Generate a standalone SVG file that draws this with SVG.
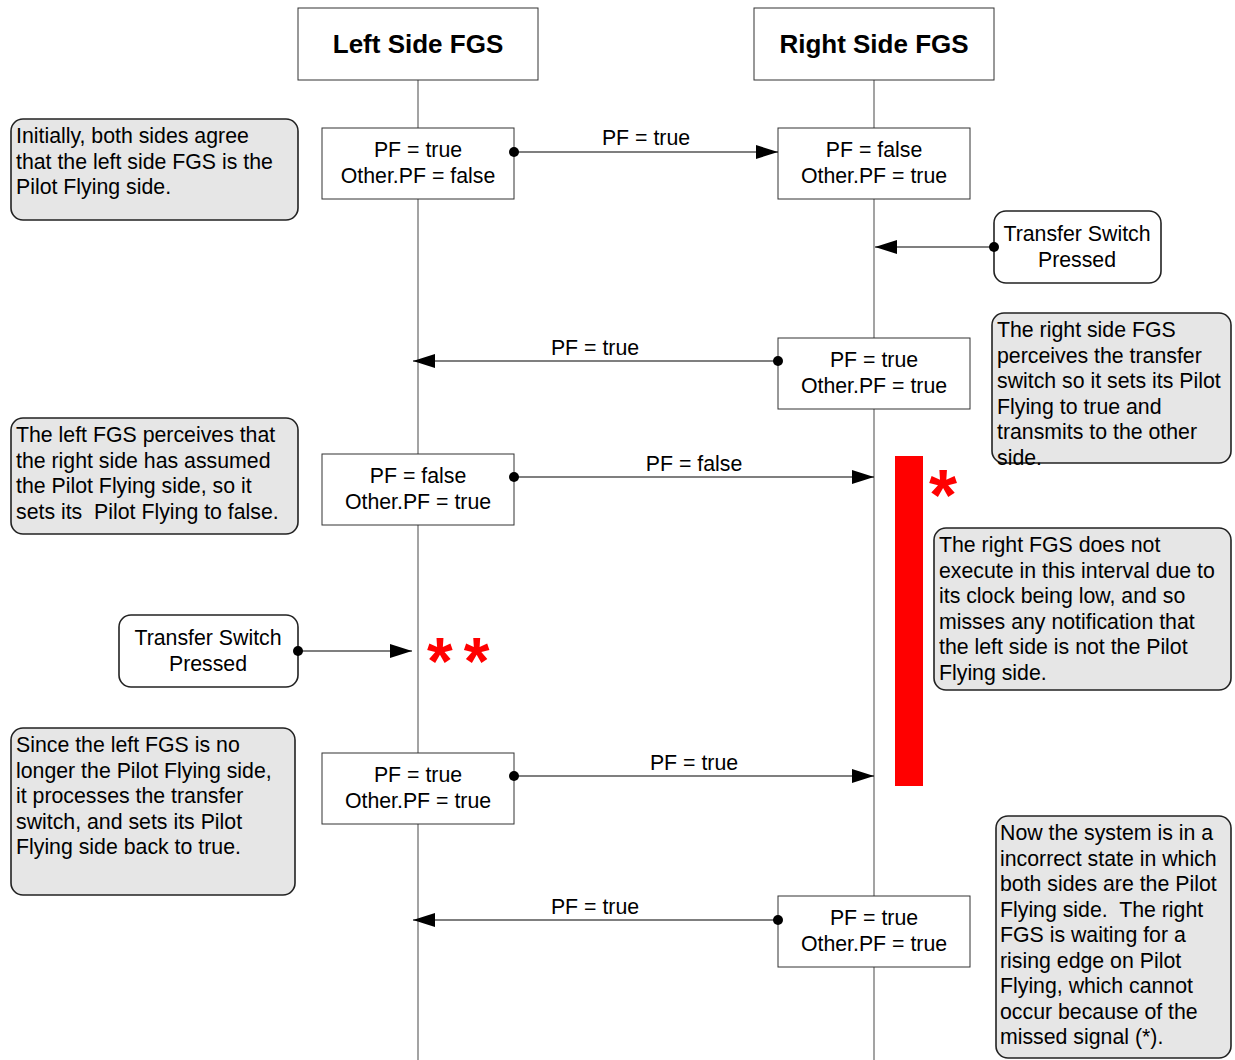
<svg xmlns="http://www.w3.org/2000/svg" width="1235" height="1060" viewBox="0 0 1235 1060">
<defs>
<marker id="arrow" markerUnits="userSpaceOnUse" markerWidth="24" markerHeight="16" refX="22" refY="8" orient="auto">
<path d="M0,1 L22,8 L0,15 Z" fill="#000"/>
</marker>
<marker id="dot" markerUnits="userSpaceOnUse" markerWidth="12" markerHeight="12" refX="6" refY="6" orient="auto">
<circle cx="6" cy="6" r="5" fill="#000"/>
</marker>
<style>
text{font-family:"Liberation Sans",Arial,sans-serif;fill:#000;}
.title{font-size:26px;font-weight:bold;text-anchor:middle;}
.head{fill:#fff;stroke:#333;stroke-width:1;}
.life{stroke:#666;stroke-width:1.2;fill:none;}
.state{fill:#fff;stroke:#333;stroke-width:1;}
.st{font-size:21.3px;text-anchor:middle;}
.note{fill:#e6e6e6;stroke:#222;stroke-width:1.6;}
.nt{font-size:21.3px;}
.sw{fill:#fff;stroke:#222;stroke-width:1.6;}
.msg{stroke:#000;stroke-width:1.2;fill:none;marker-start:url(#dot);marker-end:url(#arrow);}
.lbl{font-size:21.3px;text-anchor:middle;}
.star{font-weight:bold;fill:#ff0000;}
</style>
</defs>
<rect width="1235" height="1060" fill="#fff"/>

<g id="lifelines">
<line class="life" x1="418" y1="80" x2="418" y2="1060"/>
<line class="life" x1="874" y1="80" x2="874" y2="1060"/>
</g>

<g id="left-fgs">
<rect class="head" x="298" y="8" width="240" height="72"/>
<text class="title" x="418" y="53">Left Side FGS</text>
</g>
<g id="right-fgs">
<rect class="head" x="754" y="8" width="240" height="72"/>
<text class="title" x="874" y="53">Right Side FGS</text>
</g>

<g id="state-l1">
<rect class="state" x="322" y="128" width="192" height="71"/>
<text class="st" x="418" y="157">PF = true</text>
<text class="st" x="418" y="183">Other.PF = false</text>
</g>
<g id="state-r1">
<rect class="state" x="778" y="128" width="192" height="71"/>
<text class="st" x="874" y="157">PF = false</text>
<text class="st" x="874" y="183">Other.PF = true</text>
</g>
<g id="state-r2">
<rect class="state" x="778" y="338" width="192" height="71"/>
<text class="st" x="874" y="367">PF = true</text>
<text class="st" x="874" y="393">Other.PF = true</text>
</g>
<g id="state-l2">
<rect class="state" x="322" y="454" width="192" height="71"/>
<text class="st" x="418" y="483">PF = false</text>
<text class="st" x="418" y="509">Other.PF = true</text>
</g>
<g id="state-l3">
<rect class="state" x="322" y="753" width="192" height="71"/>
<text class="st" x="418" y="782">PF = true</text>
<text class="st" x="418" y="808">Other.PF = true</text>
</g>
<g id="state-r3">
<rect class="state" x="778" y="896" width="192" height="71"/>
<text class="st" x="874" y="925">PF = true</text>
<text class="st" x="874" y="951">Other.PF = true</text>
</g>

<g id="switch-r">
<rect class="sw" x="994" y="211" width="167" height="72" rx="12"/>
<text class="st" x="1077" y="241">Transfer Switch</text>
<text class="st" x="1077" y="267">Pressed</text>
</g>
<g id="switch-l">
<rect class="sw" x="119" y="615" width="179" height="72" rx="12"/>
<text class="st" x="208" y="645">Transfer Switch</text>
<text class="st" x="208" y="671">Pressed</text>
</g>

<g id="note-1">
<rect class="note" x="11" y="119" width="287" height="101" rx="12"/>
<text class="nt" x="16" y="143">Initially, both sides agree</text>
<text class="nt" x="16" y="168.5">that the left side FGS is the</text>
<text class="nt" x="16" y="194">Pilot Flying side.</text>
</g>
<g id="note-2">
<rect class="note" x="992" y="313" width="239" height="150" rx="12"/>
<text class="nt" x="997" y="337">The right side FGS</text>
<text class="nt" x="997" y="362.5">perceives the transfer</text>
<text class="nt" x="997" y="388">switch so it sets its Pilot</text>
<text class="nt" x="997" y="413.5">Flying to true and</text>
<text class="nt" x="997" y="439">transmits to the other</text>
<text class="nt" x="997" y="464.5">side.</text>
</g>
<g id="note-3">
<rect class="note" x="11" y="418" width="287" height="116" rx="12"/>
<text class="nt" x="16" y="442">The left FGS perceives that</text>
<text class="nt" x="16" y="467.5">the right side has assumed</text>
<text class="nt" x="16" y="493">the Pilot Flying side, so it</text>
<text class="nt" x="16" y="518.5" xml:space="preserve">sets its  Pilot Flying to false.</text>
</g>
<g id="note-4">
<rect class="note" x="934" y="528" width="297" height="162" rx="12"/>
<text class="nt" x="939" y="552">The right FGS does not</text>
<text class="nt" x="939" y="577.5">execute in this interval due to</text>
<text class="nt" x="939" y="603">its clock being low, and so</text>
<text class="nt" x="939" y="628.5">misses any notification that</text>
<text class="nt" x="939" y="654">the left side is not the Pilot</text>
<text class="nt" x="939" y="679.5">Flying side.</text>
</g>
<g id="note-5">
<rect class="note" x="11" y="728" width="284" height="167" rx="12"/>
<text class="nt" x="16" y="752">Since the left FGS is no</text>
<text class="nt" x="16" y="777.5">longer the Pilot Flying side,</text>
<text class="nt" x="16" y="803">it processes the transfer</text>
<text class="nt" x="16" y="828.5">switch, and sets its Pilot</text>
<text class="nt" x="16" y="854">Flying side back to true.</text>
</g>
<g id="note-6">
<rect class="note" x="996" y="816" width="235" height="242" rx="12"/>
<text class="nt" x="1000" y="840">Now the system is in a</text>
<text class="nt" x="1000" y="865.5">incorrect state in which</text>
<text class="nt" x="1000" y="891">both sides are the Pilot</text>
<text class="nt" x="1000" y="916.5" xml:space="preserve">Flying side.  The right</text>
<text class="nt" x="1000" y="942">FGS is waiting for a</text>
<text class="nt" x="1000" y="967.5">rising edge on Pilot</text>
<text class="nt" x="1000" y="993">Flying, which cannot</text>
<text class="nt" x="1000" y="1018.5">occur because of the</text>
<text class="nt" x="1000" y="1044">missed signal (*).</text>
</g>

<g id="missed-interval">
<rect x="895" y="456" width="28" height="330" fill="#ff0000"/>
<text class="star" x="929" y="520" font-size="72">*</text>
</g>
<g id="double-star">
<text class="star" x="427" y="684" font-size="66" letter-spacing="11">**</text>
</g>

<g id="connectors">
<line class="msg" x1="514" y1="152" x2="778" y2="152"/>
<text class="lbl" x="646" y="145">PF = true</text>
<line class="msg" x1="994" y1="247" x2="875" y2="247"/>
<line class="msg" x1="778" y1="361" x2="413" y2="361"/>
<text class="lbl" x="595" y="355">PF = true</text>
<line class="msg" x1="514" y1="477" x2="874" y2="477"/>
<text class="lbl" x="694" y="471">PF = false</text>
<line class="msg" x1="298" y1="651" x2="412" y2="651"/>
<line class="msg" x1="514" y1="776" x2="874" y2="776"/>
<text class="lbl" x="694" y="770">PF = true</text>
<line class="msg" x1="778" y1="920" x2="413" y2="920"/>
<text class="lbl" x="595" y="914">PF = true</text>
</g>
</svg>
